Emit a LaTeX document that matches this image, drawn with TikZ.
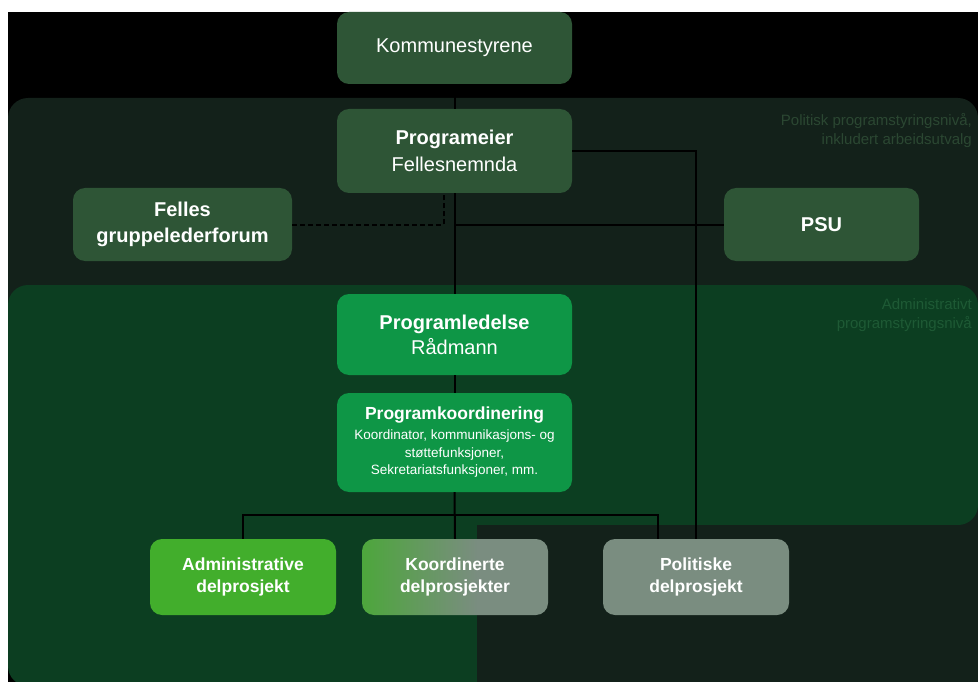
\documentclass[tikz,border=0pt]{standalone}
\usepackage{fontspec}
\setmainfont{Liberation Sans}
\definecolor{polband}{HTML}{13211A}
\definecolor{admband}{HTML}{0C3E21}
\definecolor{nodedark}{HTML}{2E5536}
\definecolor{nodegreen}{HTML}{0E9646}
\definecolor{nodelime}{HTML}{42AE2C}
\definecolor{nodegray}{HTML}{7A8D80}
\definecolor{kgreen}{HTML}{4DA63C}
\definecolor{pollabel}{HTML}{2B4732}
\definecolor{admlabel}{HTML}{1E5A35}
\pgfdeclarehorizontalshading{koordshade}{100bp}{color(0bp)=(kgreen); color(25bp)=(kgreen); color(56bp)=(nodegray); color(100bp)=(nodegray)}
\begin{document}
\begin{tikzpicture}[x=1pt,y=-1pt,
  box/.style={rounded corners=12pt, text=white, align=center, inner sep=0pt},
  bigtxt/.style={font=\fontsize{20}{27}\selectfont},
  midtxt/.style={font=\fontsize{17.5}{22.5}\selectfont\bfseries},
  wide/.style={minimum width=235pt},
  conn/.style={draw=black, line width=2pt},
  bandlabel/.style={anchor=north east, align=right, inner sep=0pt, font=\fontsize{15}{19}\selectfont}
]
\useasboundingbox (0,0) rectangle (978,682);
\fill[white] (0,0) rectangle (978,682);
\fill[black] (8,12) rectangle (978,682);
% bands
\fill[polband, rounded corners=20pt] (8,98) rectangle (978,320);
\fill[polband] (900,490) rectangle (978,540);
\fill[admband, rounded corners=20pt] (8,285) rectangle (978,525);
\fill[admband, rounded corners=20pt] (8,400) rectangle (497,686);
\fill[polband] (477,525) rectangle (978,682);
\node[bandlabel, text=pollabel] (pollab) at (972,113) {Politisk programstyringsnivå,\\inkludert arbeidsutvalg};
\node[bandlabel, text=admlabel] (admlab) at (972,298) {Administrativt\\programstyringsnivå};
% nodes
\node[box, bigtxt, wide, fill=nodedark, minimum height=72pt] (komm) at (454.5,48) {Kommunestyrene};
\node[box, bigtxt, wide, fill=nodedark, minimum height=84pt] (prog) at (454.5,151) {\textbf{Programeier}\\Fellesnemnda};
\node[box, bigtxt, font=\fontsize{20}{26}\selectfont\bfseries, fill=nodedark, minimum width=219pt, minimum height=73pt] (felles) at (182.5,224.5) {Felles\\gruppelederforum};
\node[box, bigtxt, font=\fontsize{20}{26}\selectfont\bfseries, fill=nodedark, minimum width=195pt, minimum height=73pt] (psu) at (821.5,224.5) {PSU};
\node[box, bigtxt, font=\fontsize{20}{25}\selectfont, wide, fill=nodegreen, minimum height=81pt] (led) at (454.5,334.5) {\textbf{Programledelse}\\Rådmann};
\node[box, wide, fill=nodegreen, minimum height=99pt, font=\fontsize{13.5}{17.5}\selectfont] (koord) at (454.5,442.5)
  {{\fontsize{17.5}{17.5}\selectfont\bfseries Programkoordinering}\\[2.5pt]Koordinator, kommunikasjons- og\\støttefunksjoner,\\Sekretariatsfunksjoner, mm.};
\node[box, midtxt, fill=nodelime, minimum width=186pt, minimum height=76pt] (adm) at (243,577) {Administrative\\delprosjekt};
\node[box, midtxt, shade, shading=koordshade, minimum width=186pt, minimum height=76pt] (kdp) at (455,577) {Koordinerte\\delprosjekter};
\node[box, midtxt, fill=nodegray, minimum width=186pt, minimum height=76pt] (pdp) at (696,577) {Politiske\\delprosjekt};
% connectors
\coordinate (busR) at (658,515);
\coordinate (busP) at (658,539);
\coordinate (dashtop) at (444,193);
\draw[conn] (komm.south) -- (prog.north);
\draw[conn] (prog.south) -- (led.north);
\draw[conn] (prog.east) -| (pdp.north);
\draw[conn] (prog.south |- psu.west) -- (psu.west);
\draw[conn, dash pattern=on 5pt off 3pt] (felles.east) -| (dashtop);
\draw[conn] (led.south) -- (koord.north);
\draw[conn] (koord.south) -- (kdp.north);
\draw[conn] (adm.north) |- (busR) -- (busP);
\end{tikzpicture}
\end{document}
